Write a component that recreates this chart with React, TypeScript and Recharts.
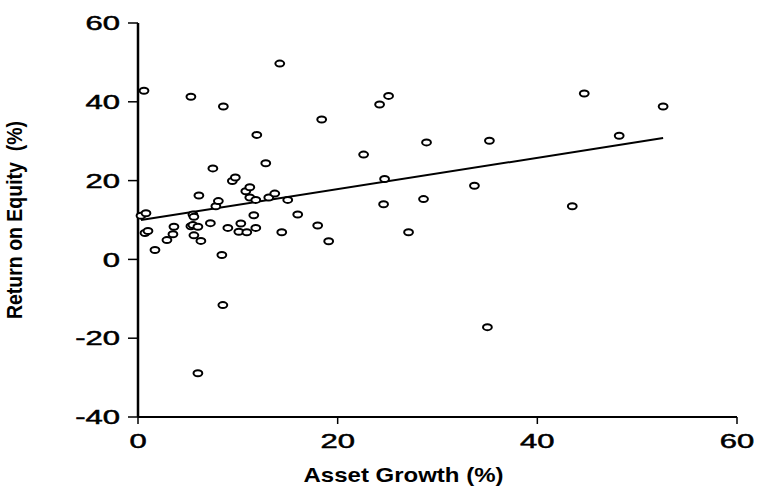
import React from 'react';
import { ScatterChart, Scatter, XAxis, YAxis, Label } from 'recharts';

// Asset growth (%) and return on equity (%) for each firm
const assetGrowth = [
  0.6, 0.3, 0.8, 0.7, 1.0, 1.7, 2.9, 3.5, 3.6, 5.3,
  5.5, 5.6, 5.3, 5.5, 6.0, 5.6, 6.3, 6.0, 6.1, 7.25,
  7.5, 7.8, 8.05, 8.4, 8.5, 8.55, 9.0, 9.45, 9.75, 10.1,
  10.3, 10.8, 10.9, 11.2, 11.2, 11.6, 11.8, 11.8, 11.9, 12.8,
  13.1, 13.7, 14.2, 14.4, 15.0, 16.0, 18.0, 18.4, 19.1, 22.6,
  24.2, 24.6, 24.7, 25.1, 27.1, 28.6, 28.9, 33.7, 35.0, 35.2,
  43.5, 44.7, 48.2, 52.6,
];
const returnOnEquity = [
  42.8, 11.1, 11.7, 6.7, 7.2, 2.4, 4.9, 6.4, 8.3, 41.3,
  11.4, 10.8, 8.4, 8.7, 8.3, 6.1, 4.7, -28.9, 16.2, 9.2,
  23.1, 13.5, 14.8, 1.1, -11.6, 38.8, 8.0, 19.9, 20.8, 7.0,
  9.1, 17.3, 6.9, 18.3, 15.7, 11.2, 15.1, 8.0, 31.6, 24.4,
  15.7, 16.7, 49.7, 6.9, 15.1, 11.4, 8.6, 35.5, 4.6, 26.6,
  39.3, 14.0, 20.4, 41.5, 6.9, 15.3, 29.7, 18.7, -17.2, 30.1,
  13.5, 42.1, 31.4, 38.8,
];

// end points of the fitted line
const fitX = [0.3, 52.6];
const fitY = [10.0, 30.8];

const xTicks = [0, 20, 40, 60];
const yTicks = [-40, -20, 0, 20, 40, 60];

const points = assetGrowth.map((x, i) => ({ x, y: returnOnEquity[i] }));
const fitLine = fitX.map((x, i) => ({ x, y: fitY[i] }));

const FONT = '"Liberation Sans", Arial, Helvetica, sans-serif';

// hollow oval marker
const Ring = (props: any) => (
  <ellipse cx={props.cx} cy={props.cy} rx={4.4} ry={3} fill="#fff" stroke="#000" strokeWidth={2} />
);

const NoDot = () => <g />;

// wide tick numbers
const XTick = ({ x, y, payload }: any) => (
  <text transform={`translate(${x},${y}) scale(1.55,1)`} textAnchor="middle" dy="0.71em"
    fontSize={20} fontFamily={FONT} fill="#000" stroke="#000" strokeWidth={0.5}>
    {payload.value}
  </text>
);

const YTick = ({ x, y, payload }: any) => (
  <text transform={`translate(${x},${y}) scale(1.55,1)`} textAnchor="end" dy="0.36em"
    fontSize={20} fontFamily={FONT} fill="#000" stroke="#000" strokeWidth={0.5}>
    {payload.value}
  </text>
);

const XTitle = ({ viewBox }: any) => {
  const cx = viewBox.x + viewBox.width / 2 - 34;
  const by = viewBox.y + viewBox.height - 10;
  return (
    <text transform={`translate(${cx},${by}) scale(1.2,1)`} textAnchor="middle"
      fontSize={20} fontWeight="bold" fontFamily={FONT} fill="#000">
      Asset Growth (%)
    </text>
  );
};

const YTitle = ({ viewBox }: any) => {
  const cy = viewBox.y + viewBox.height / 2;
  return (
    <text transform={`translate(22,${cy}) scale(1.15,1) rotate(-90)`} textAnchor="middle"
      fontSize={19.5} fontWeight="bold" fontFamily={FONT} fill="#000" style={{ whiteSpace: 'pre' }}>
      {'Return on Equity  (%)'}
    </text>
  );
};

export default function App() {
  return (
    <div style={{ position: 'absolute', left: 0, top: 0, width: 757, height: 492, background: '#fff' }}>
      <ScatterChart width={757} height={492} margin={{ top: 23, right: 20, bottom: 0, left: 0 }}>
        <XAxis
          type="number"
          dataKey="x"
          domain={[0, 60]}
          ticks={xTicks}
          height={75}
          tickSize={7}
          tickMargin={10}
          axisLine={{ stroke: '#000', strokeWidth: 2 }}
          tickLine={{ stroke: '#000', strokeWidth: 1.5 }}
          tick={<XTick />}
        >
          <Label content={<XTitle />} />
        </XAxis>
        <YAxis
          type="number"
          dataKey="y"
          domain={[-40, 60]}
          ticks={yTicks}
          width={138}
          tickSize={10}
          tickMargin={8}
          axisLine={{ stroke: '#000', strokeWidth: 2.5 }}
          tickLine={{ stroke: '#000', strokeWidth: 1.5 }}
          tick={<YTick />}
        >
          <Label content={<YTitle />} />
        </YAxis>
        <Scatter data={fitLine} line={{ stroke: '#000', strokeWidth: 2 }} shape={<NoDot />} isAnimationActive={false} />
        <Scatter data={points} shape={<Ring />} isAnimationActive={false} />
      </ScatterChart>
    </div>
  );
}
